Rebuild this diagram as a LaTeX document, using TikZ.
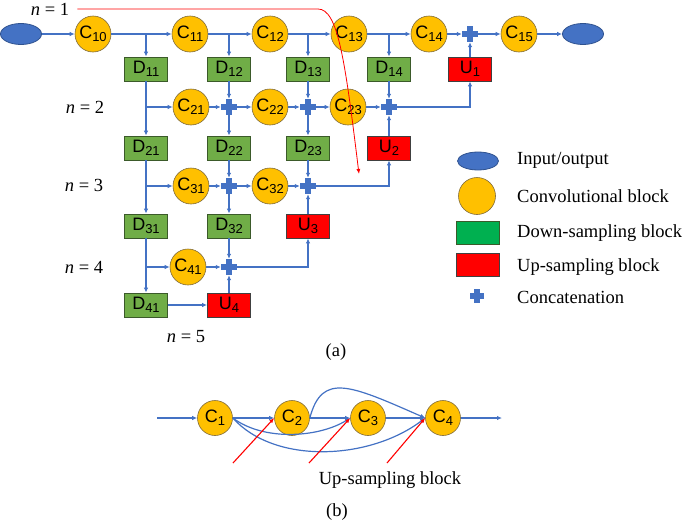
\documentclass[tikz,border=0pt]{standalone}
\usepackage{fontspec}
\setmainfont{Liberation Serif}
\newfontfamily\blkfont{Liberation Sans}
\usetikzlibrary{arrows.meta,shapes.geometric}
\definecolor{lineblue}{HTML}{4472C4}
\definecolor{ioedge}{HTML}{2F528F}
\definecolor{convorange}{HTML}{FFC000}
\definecolor{convedge}{HTML}{7F6A3A}
\definecolor{downgreen}{HTML}{70AD47}
\definecolor{downedge}{HTML}{3B5A2A}
\definecolor{keygreen}{HTML}{00B050}
\definecolor{upred}{HTML}{FF0000}
\newcommand{\blk}[2]{#1\raisebox{-3pt}{\fontsize{13}{13}\selectfont#2}}
\begin{document}
\begin{tikzpicture}[
			x=1pt,y=-1pt,
			conv/.style={circle,draw=convedge,line width=0.6pt,fill=convorange,minimum size=36pt,inner sep=0pt,font=\blkfont\fontsize{18}{18}\selectfont},
			down/.style={rectangle,draw=downedge,line width=0.8pt,fill=downgreen,minimum width=43pt,minimum height=24pt,inner sep=0pt,font=\blkfont\fontsize{18}{18}\selectfont},
			up/.style={down,draw=black!75,fill=upred},
			io/.style={ellipse,draw=ioedge,line width=0.8pt,fill=lineblue,minimum width=41pt,minimum height=21pt,inner sep=0pt},
			cat/.style={rectangle,minimum size=16pt,inner sep=0pt,
					path picture={
							\fill[lineblue] ([xshift=-2.8pt]path picture bounding box.north) rectangle ([xshift=2.8pt]path picture bounding box.south);
							\fill[lineblue] ([yshift=-2.8pt]path picture bounding box.west) rectangle ([yshift=2.8pt]path picture bounding box.east);
						}},
			link/.style={draw=lineblue,line width=1.2pt,-{Latex[length=5pt,width=4.5pt]}},
			redlink/.style={draw=upred,line width=0.8pt,-{Latex[length=5pt,width=4pt]}},
			txt/.style={inner sep=0pt,font=\fontsize{18.5}{22}\selectfont}
		]
		\useasboundingbox (0,0) rectangle (685,525);
		% (a) level 1
		\node[io] (in) at (21,34) {};
		\node[conv] (c10) at (93,34) {\blk{C}{10}};
		\node[conv] (c11) at (190,34) {\blk{C}{11}};
		\node[conv] (c12) at (270,34) {\blk{C}{12}};
		\node[conv] (c13) at (349,34) {\blk{C}{13}};
		\node[conv] (c14) at (429,34) {\blk{C}{14}};
		\node[cat] (p15) at (470,34) {};
		\node[conv] (c15) at (519,34) {\blk{C}{15}};
		\node[io] (out) at (583,34) {};
		\node[down] (d11) at (146,69) {\blk{D}{11}};
		\node[down] (d12) at (229,69) {\blk{D}{12}};
		\node[down] (d13) at (308,69) {\blk{D}{13}};
		\node[down] (d14) at (389,69) {\blk{D}{14}};
		\node[up] (u1) at (470,69) {\blk{U}{1}};
		% level 2
		\node[conv] (c21) at (191,107) {\blk{C}{21}};
		\node[cat] (p22) at (229,107) {};
		\node[conv] (c22) at (270,107) {\blk{C}{22}};
		\node[cat] (p23) at (308,107) {};
		\node[conv] (c23) at (348,107) {\blk{C}{23}};
		\node[cat] (p24) at (389,107) {};
		\node[down] (d21) at (146,148) {\blk{D}{21}};
		\node[down] (d22) at (229,148) {\blk{D}{22}};
		\node[down] (d23) at (308,148) {\blk{D}{23}};
		\node[up] (u2) at (389,148) {\blk{U}{2}};
		% level 3
		\node[conv] (c31) at (191,186) {\blk{C}{31}};
		\node[cat] (p32) at (229,186) {};
		\node[conv] (c32) at (270,186) {\blk{C}{32}};
		\node[cat] (p33) at (308,186) {};
		\node[down] (d31) at (146,226) {\blk{D}{31}};
		\node[down] (d32) at (229,226) {\blk{D}{32}};
		\node[up] (u3) at (308,226) {\blk{U}{3}};
		% level 4 and 5
		\node[conv] (c41) at (188,267) {\blk{C}{41}};
		\node[cat] (p42) at (229,267) {};
		\node[down] (d41) at (146,305) {\blk{D}{41}};
		\node[up] (u4) at (229,305) {\blk{U}{4}};

		\draw[link] (in) -- (c10);
		\draw[link] (c10) -- (c11);
		\draw[link] (c11) -- (c12);
		\draw[link] (c12) -- (c13);
		\draw[link] (c13) -- (c14);
		\draw[link] (c14) -- (p15);
		\draw[link] (p15) -- (c15);
		\draw[link] (c15) -- (out);
		\draw[link] (d11 |- c10) -- (d11);
		\draw[link] (d12 |- c10) -- (d12);
		\draw[link] (d13 |- c10) -- (d13);
		\draw[link] (d14 |- c13) -- (d14);
		\draw[link] (u1) -- (p15);

		\draw[link] (d11) -- (d21);
		\draw[link] (d11 |- c21) -- (c21);
		\draw[link] (c21) -- (p22);
		\draw[link] (p22) -- (c22);
		\draw[link] (c22) -- (p23);
		\draw[link] (p23) -- (c23);
		\draw[link] (c23) -- (p24);
		\draw[link] (p24) -| (u1);
		\draw[link] (d12) -- (p22);
		\draw[link] (p22) -- (d22);
		\draw[link] (d13) -- (p23);
		\draw[link] (p23) -- (d23);
		\draw[link] (d14) -- (p24);
		\draw[link] (u2) -- (p24);

		\draw[link] (d21) -- (d31);
		\draw[link] (d21 |- c31) -- (c31);
		\draw[link] (c31) -- (p32);
		\draw[link] (p32) -- (c32);
		\draw[link] (c32) -- (p33);
		\draw[link] (p33) -| (u2);
		\draw[link] (d22) -- (p32);
		\draw[link] (p32) -- (d32);
		\draw[link] (d23) -- (p33);
		\draw[link] (u3) -- (p33);

		\draw[link] (d31) -- (d41);
		\draw[link] (d31 |- c41) -- (c41);
		\draw[link] (c41) -- (p42);
		\draw[link] (p42) -| (u3);
		\draw[link] (d32) -- (p42);
		\draw[link] (u4) -- (p42);
		\draw[link] (d41) -- (u4);

		% level labels
		\node[txt] (n1) at (50,9) {\textit{n} = 1};
		\node[txt] (n2) at (85,107) {\textit{n} = 2};
		\node[txt] (n3) at (84,185) {\textit{n} = 3};
		\node[txt] (n4) at (84,267) {\textit{n} = 4};
		\node[txt] (n5) at (186,337) {\textit{n} = 5};
		\coordinate (bend) at (318,9);
		\coordinate (drop) at (359,174);
		\draw[redlink,shorten <=8pt] (n1.east) -- (bend) .. controls (338,9) and (345,60) .. (drop);

		% legend
		\node[io,minimum height=18pt] (kio) at (478,161) {};
		\node[conv,minimum size=37pt] (kconv) at (477,196) {};
		\node[down,fill=keygreen,minimum height=23pt] (kdown) at (478,233) {};
		\node[up,minimum height=23pt] (kup) at (478,265) {};
		\node[cat,minimum size=14pt] (kcat) at (477,296) {};
		\node[txt,anchor=west] (tio) at (517,160) {Input/output};
		\node[txt,anchor=west] (tconv) at (517,196) {Convolutional block};
		\node[txt,anchor=west] (tdown) at (517,233) {Down-sampling block};
		\node[txt,anchor=west] (tup) at (517,267) {Up-sampling block};
		\node[txt,anchor=west] (tcat) at (517,297) {Concatenation};
		\node[txt] (capa) at (336,352) {(a)};

		% (b)
		\node[conv,minimum size=35pt] (b1) at (215,418) {\blk{C}{1}};
		\node[conv,minimum size=35pt] (b2) at (292,418) {\blk{C}{2}};
		\node[conv,minimum size=35pt] (b3) at (368,418) {\blk{C}{3}};
		\node[conv,minimum size=35pt] (b4) at (443,418) {\blk{C}{4}};
		\coordinate (bin) at (157,418);
		\coordinate (bout) at (502,418);
		\draw[link] (bin) -- (b1);
		\draw[link] (b1) -- (b2);
		\draw[link] (b2) -- (b3);
		\draw[link] (b3) -- (b4);
		\draw[link] (b4) -- (bout);
		\draw[link] (b1.east) .. controls (265,442) and (320,437) .. (b3.west);
		\draw[link] (b1.east) .. controls (275,465) and (370,460) .. (b4.west);
		\draw[link] (b2.east) .. controls (322,372) and (350,385) .. (b4.west);
		\coordinate (r2) at (233,463);
		\coordinate (r3) at (309,463);
		\coordinate (r4) at (387,463);
		\draw[redlink,line width=1.1pt] (r2) -- (b2.west);
		\draw[redlink,line width=1.1pt] (r3) -- (b3.west);
		\draw[redlink,line width=1.1pt] (r4) -- (b4.west);
		\node[txt] (tupb) at (390,480) {Up-sampling block};
		\node[txt] (capb) at (337,512) {(b)};
	\end{tikzpicture}
\end{document}
